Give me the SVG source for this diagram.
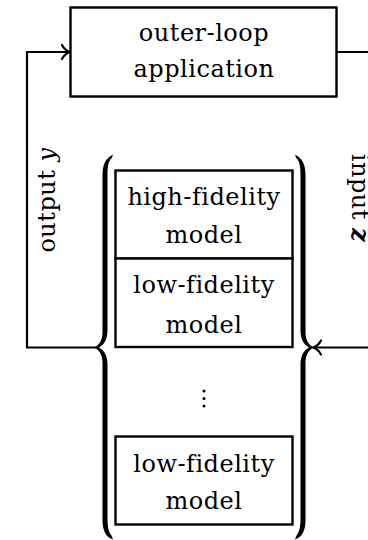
<svg xmlns="http://www.w3.org/2000/svg" width="368" height="540" viewBox="0 0 368 540">
  <defs>
    <!-- tapered curly brace, point facing left -->
    <path id="brace-shape" d="M113,154.5 C106,158 102.5,164 102.5,175 L102.5,332 C102.5,340 99.5,345 94,347.5 C99.5,350 102.5,355 102.5,363 L102.5,520 C102.5,531 106,537 113,539.5 L111.8,536 C108.5,532 107.5,527 107.5,518 L107.5,365 C107.5,356 104.5,350.5 99,347.5 C104.5,344.5 107.5,339 107.5,330 L107.5,175 C107.5,166 108.5,161 111.8,158 Z"/>
  </defs>
  <style>
    .box { fill: #fff; stroke: #000; stroke-width: 2.4; }
    .lbl { font-family: "DejaVu Serif", "Liberation Serif", serif; font-size: 24px; letter-spacing: 0.5px; fill: #000; text-anchor: middle; }
    .wire { fill: none; stroke: #000; stroke-width: 2.2; stroke-linejoin: miter; }
    .head { fill: none; stroke: #000; stroke-width: 2.2; stroke-linecap: round; }
    .brace { fill: #000; stroke: none; }
  </style>

  <!-- connectors -->
  <g id="connectors">
    <path class="wire" d="M70,52 H27 V347.5 H96"/>
    <path class="head" d="M62,45 C64,49 67,51 70,52 C67,53 64,55 62,59"/>
    <path class="wire" d="M337,52 H370"/>
    <path class="wire" d="M370,347.5 H313"/>
    <path class="head" d="M321,340.5 C319,344.5 316,346.5 313,347.5 C316,348.5 319,350.5 321,354.5"/>
    <text class="lbl" transform="translate(55,200) rotate(-90)">output <tspan font-style="italic">y</tspan></text>
    <text class="lbl" transform="translate(352,198) rotate(90)">input <tspan font-style="italic" font-weight="bold">z</tspan></text>
  </g>

  <!-- outer-loop application -->
  <g id="outer-loop">
    <rect class="box" x="70.5" y="7.5" width="266" height="89"/>
    <text class="lbl" x="204" y="41">outer-loop</text>
    <text class="lbl" x="204" y="77">application</text>
  </g>

  <!-- model stack braces -->
  <g id="braces">
    <use class="brace" href="#brace-shape"/>
    <use class="brace" href="#brace-shape" transform="translate(408,0) scale(-1,1)"/>
  </g>

  <g id="hifi-model">
    <rect class="box" x="115.5" y="170.5" width="177" height="88"/>
    <text class="lbl" x="204" y="205">high-fidelity</text>
    <text class="lbl" x="204" y="243">model</text>
  </g>

  <g id="lofi-model-1">
    <rect class="box" x="115.5" y="258.5" width="177" height="88.5"/>
    <text class="lbl" x="204" y="293">low-fidelity</text>
    <text class="lbl" x="204" y="333">model</text>
  </g>

  <g id="ellipsis">
    <circle cx="204" cy="391" r="1.5"/>
    <circle cx="204" cy="398.5" r="1.5"/>
    <circle cx="204" cy="406" r="1.5"/>
  </g>

  <g id="lofi-model-n">
    <rect class="box" x="115.5" y="436.5" width="177" height="88"/>
    <text class="lbl" x="204" y="472">low-fidelity</text>
    <text class="lbl" x="204" y="509">model</text>
  </g>
</svg>
